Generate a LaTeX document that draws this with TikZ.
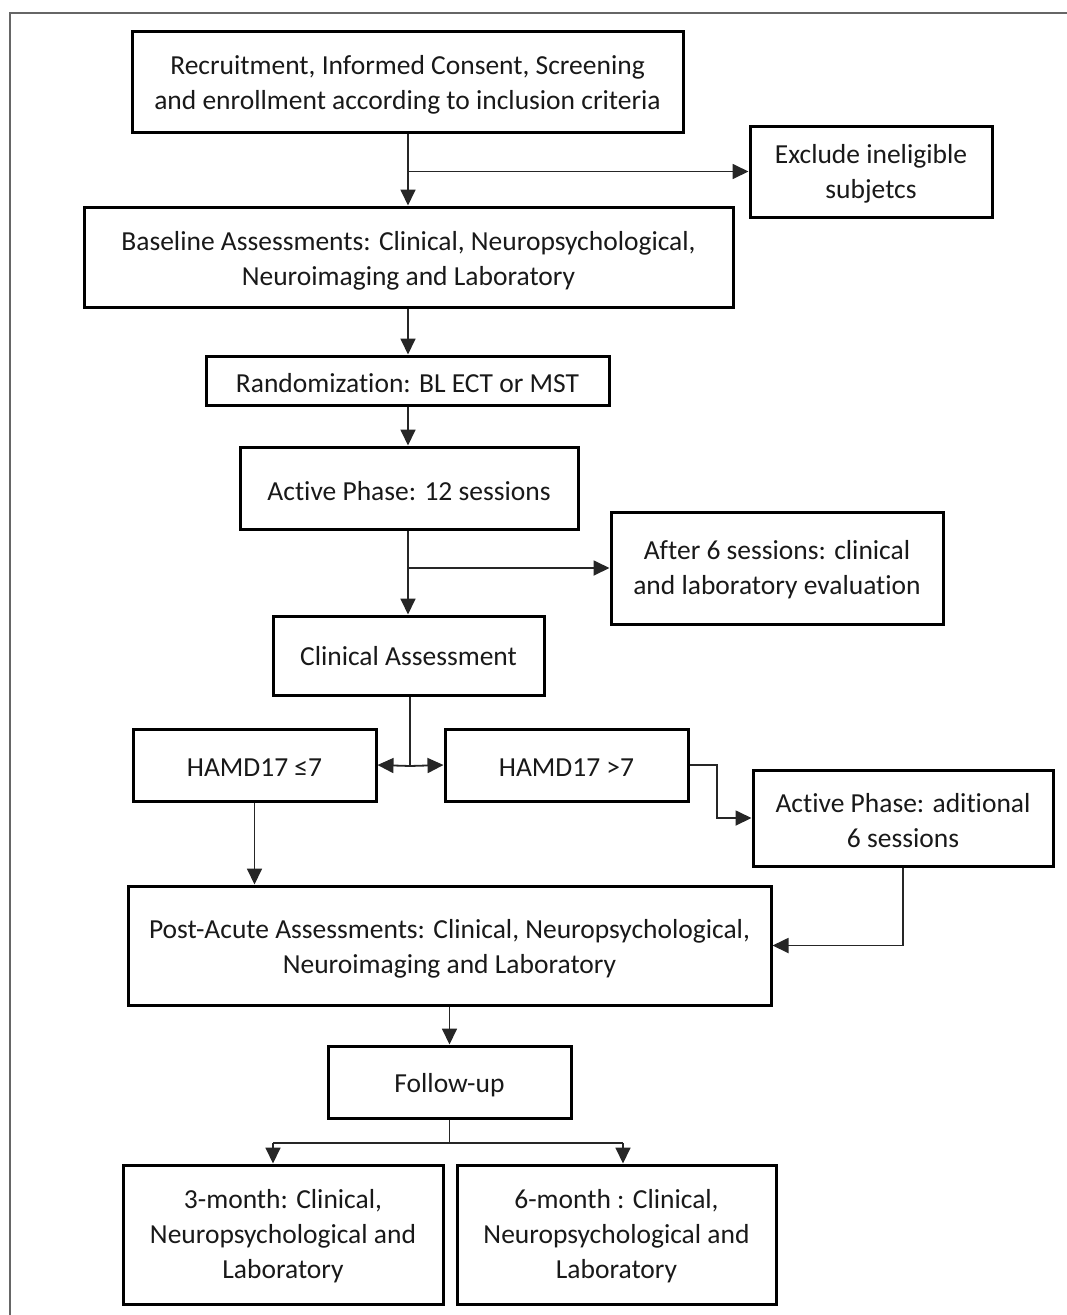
\documentclass[tikz,border=0pt]{standalone}
\usepackage{fontspec}
\setmainfont[Ligatures=NoCommon]{Carlito}
\usetikzlibrary{arrows.meta}
\begin{document}
\begin{tikzpicture}[x=1pt,y=-1pt,
  box/.style={draw=black,line width=3pt,inner sep=0pt},
  txt/.style={inner sep=0pt,align=center,
    font=\fontsize{27.5}{35}\selectfont,text=black!90},
  arr/.style={line width=1.8pt,draw=black!85,-{Triangle[length=16pt,width=15pt]}},
  ln/.style={line width=1.8pt,draw=black!85}]
\useasboundingbox (0,0) rectangle (1067,1315);
\draw[line width=2pt,draw=black!60] (10,1315) -- (10,13) -- (1067,13);
% boxes
\node[box,minimum width=551pt,minimum height=101pt] (rec) at (407.5,81.5) {};
\node[box,minimum width=242pt,minimum height=91pt] (excl) at (871,171.5) {};
\node[box,minimum width=649pt,minimum height=100pt] (base) at (408.5,257) {};
\node[box,minimum width=403pt,minimum height=49pt] (rand) at (407.5,380.5) {};
\node[box,minimum width=338pt,minimum height=82pt] (act) at (409,488) {};
\node[box,minimum width=332pt,minimum height=112pt] (after) at (777,568) {};
\node[box,minimum width=271pt,minimum height=79pt] (clin) at (408.5,655.5) {};
\node[box,minimum width=243pt,minimum height=72pt] (hle) at (254.5,765) {};
\node[box,minimum width=243pt,minimum height=72pt] (hgt) at (566.5,765) {};
\node[box,minimum width=300pt,minimum height=96pt] (addl) at (903,818) {};
\node[box,minimum width=643pt,minimum height=119pt] (post) at (449.5,945.5) {};
\node[box,minimum width=243pt,minimum height=72pt] (fol) at (449.5,1082) {};
\node[box,minimum width=320pt,minimum height=139pt] (m3) at (283,1234.5) {};
\node[box,minimum width=319pt,minimum height=139pt] (m6) at (616.5,1234.5) {};
% texts
\node[txt] (recT) at ([yshift=-3pt]rec.center)
  {Recruitment, Informed Consent, Screening\\and enrollment according to inclusion criteria};
\node[txt] (exclT) at ([yshift=-2pt]excl.center) {Exclude ineligible\\subjetcs};
\node[txt] (baseT) at ([yshift=-3.5pt]base.center)
  {Baseline Assessments: Clinical, Neuropsychological,\\Neuroimaging and Laboratory};
\node[txt] (randT) at ([yshift=-2.5pt]rand.center) {Randomization: BL ECT or MST};
\node[txt] (actT) at ([yshift=-3pt]act.center) {Active Phase: 12 sessions};
\node[txt] (afterT) at ([yshift=-2pt]after.center)
  {After 6 sessions: clinical\\and laboratory evaluation};
\node[txt] (clinT) at ([yshift=-1pt]clin.center) {Clinical Assessment};
\node[txt] (hleT) at ([yshift=-3pt]hle.center) {HAMD17 ≤7};
\node[txt] (hgtT) at ([yshift=-3pt]hgt.center) {HAMD17 >7};
\node[txt] (addlT) at ([yshift=-3pt]addl.center) {Active Phase: aditional\\6 sessions};
\node[txt] (postT) at ([yshift=-3pt]post.center)
  {Post-Acute Assessments: Clinical, Neuropsychological,\\Neuroimaging and Laboratory};
\node[txt] (folT) at ([yshift=-3.5pt]fol.center) {Follow-up};
\node[txt] (m3T) at ([yshift=-2pt]m3.center)
  {3-month: Clinical,\\Neuropsychological and\\Laboratory};
\node[txt] (m6T) at ([yshift=-2pt]m6.center)
  {6-month : Clinical,\\Neuropsychological and\\Laboratory};
% connectors
\coordinate (c1) at (408,0);
\draw[arr] (rec.south -| c1) -- (base.north -| c1);
\draw[arr] (excl.west -| c1) -- (excl.west);
\draw[arr] (base.south -| c1) -- (rand.north -| c1);
\draw[arr] (rand.south -| c1) -- (act.north -| c1);
\draw[arr] (act.south -| c1) -- (clin.north -| c1);
\draw[arr] (after.west -| c1) -- (after.west);
\coordinate (split) at (410,766);
\draw[ln] (clin.south -| split) -- (split);
\draw[arr] (split) -- (hle.east);
\draw[arr] (split) -- (hgt.west);
\coordinate (k) at (717,0);
\draw[arr] (hgt.east) -- (hgt.east -| k) |- (addl.west);
\draw[arr] (hle.south) -- (hle.south |- post.north);
\draw[arr] (addl.south) |- (post.east);
\draw[arr] (post.south) -- (fol.north);
\coordinate (fa) at (273,1143);
\coordinate (fb) at (623,1143);
\draw[ln] (fol.south) -- (fol.south |- fa);
\draw[ln] (fa) -- (fb);
\draw[arr] (fa) -- (fa |- m3.north);
\draw[arr] (fb) -- (fb |- m6.north);
\end{tikzpicture}
\end{document}
